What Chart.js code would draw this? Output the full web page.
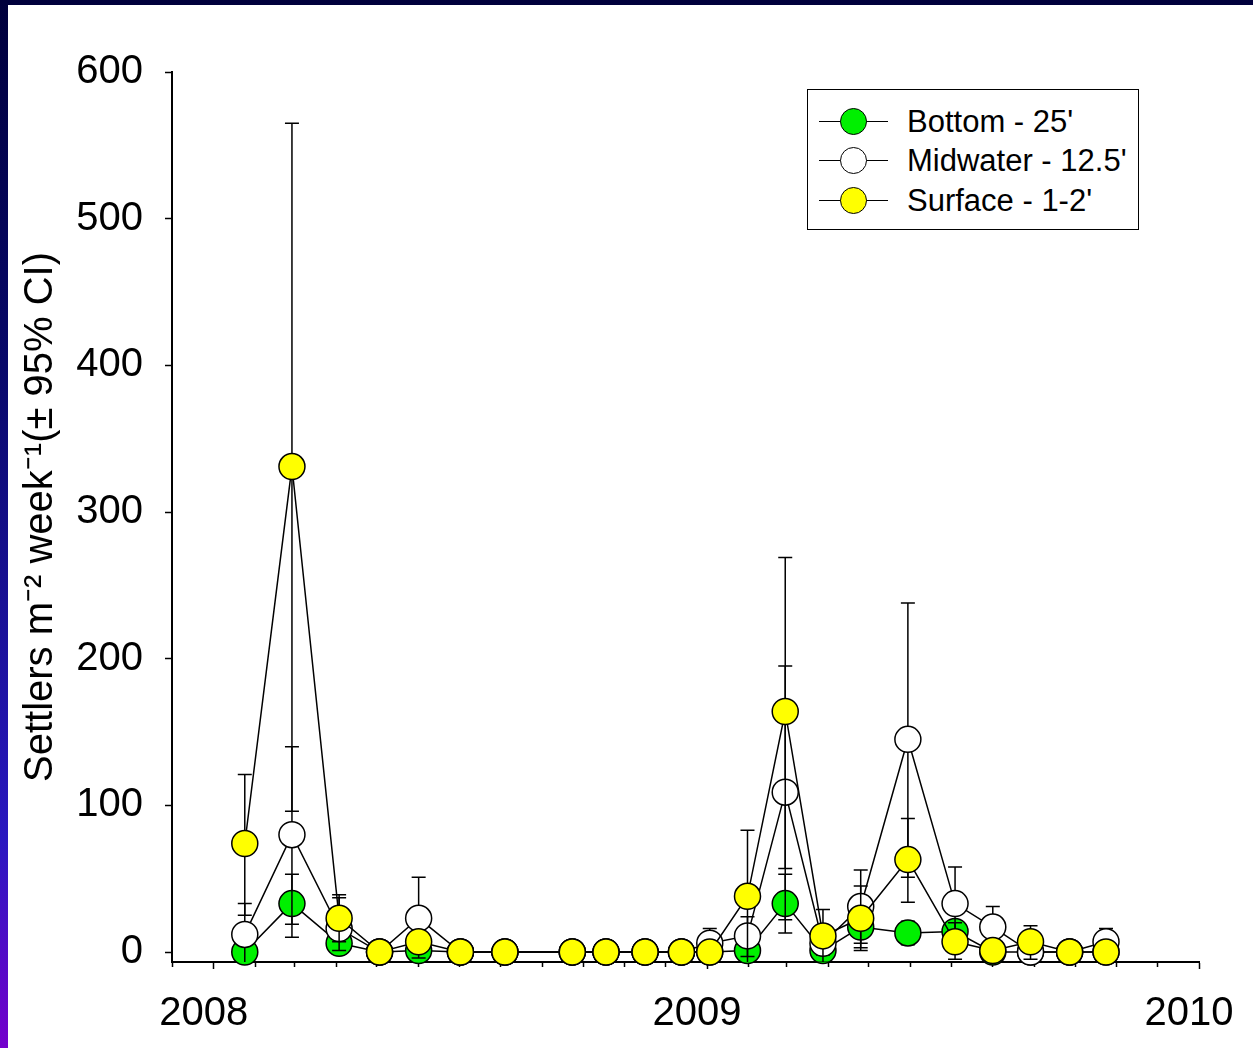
<!DOCTYPE html>
<html><head><meta charset="utf-8">
<script src="https://cdn.jsdelivr.net/npm/chart.js@4.4.1/dist/chart.umd.min.js"></script>
<style>
html,body{margin:0;padding:0;}
body{width:1253px;height:1048px;overflow:hidden;position:relative;
  background:linear-gradient(to bottom,#00003c 0%,#08086a 35%,#2a18c0 80%,#7400cc 100%);}
#wrap{position:absolute;left:8px;top:5px;width:1245px;height:1043px;background:#fff;}
canvas{display:block;}
#legend{position:absolute;left:799px;top:84px;width:332px;height:141px;box-sizing:border-box;
  border:1.5px solid #000;background:#fff;font-family:"Liberation Sans",Arial,sans-serif;}
.row{position:absolute;left:0;width:100%;height:30px;}
.ln{position:absolute;left:11px;width:69px;top:14px;height:0;border-top:1.5px solid #000;}
.dot{position:absolute;left:32px;top:1px;width:27px;height:27px;box-sizing:border-box;border:1.5px solid #000;border-radius:50%;}
.txt{position:absolute;left:99px;top:0;line-height:30px;font-size:31px;color:#000;white-space:nowrap;}
</style></head>
<body>
<div id="wrap"><canvas id="c" width="1245" height="1043"></canvas><div id="legend"></div></div>
<script>
// ---- data ----
const sampleDates = ['2008-01-24','2008-02-28','2008-04-03','2008-05-03','2008-06-01','2008-07-02','2008-08-04',
  '2008-09-23','2008-10-18','2008-11-16','2008-12-13','2009-01-03','2009-01-31','2009-02-28','2009-03-28',
  '2009-04-25','2009-05-30','2009-07-04','2009-08-01','2009-08-29','2009-09-27','2009-10-24'];

const bottomValues = [0, 33, 6, 0, 1, 0, 0, 0, 0, 0, 0, 0, 1, 33, 1, 17, 13, 14, 0, 0, 0, 0];
const bottomLow    = [0, 10, 1, 0, 0, 0, 0, 0, 0, 0, 0, 0, 0, 13, -4, 3, 5, 8, 0, 0, 0, 0];
const bottomHigh   = [0, 53, 11, 0, 2, 0, 0, 0, 0, 0, 0, 0, 2, 53, 6, 31, 21, 21, 0, 0, 0, 0];

const midValues = [12, 80, 16, 0, 23, 0, 0, 0, 0, 0, 0, 6, 11, 109, 6, 31, 145, 33, 17, 0, 0, 7];
const midLow    = [-9, 19, 1, 0, -4, 0, 0, 0, 0, 0, 0, -4, -3, 22, -2, 6, 51, 7, 3, 0, 0, -2];
const midHigh   = [33, 140, 37, 0, 51, 0, 0, 0, 0, 0, 0, 16, 24, 195, 14, 56, 238, 58, 31, 0, 0, 16];

const surfValues = [74, 331, 23, 0, 7, 0, 0, 0, 0, 0, 0, 0, 38, 164, 11, 23, 63, 7, 1, 7, 0, 0];
const surfLow    = [25, 96, 7, 0, 2, 0, 0, 0, 0, 0, 0, 0, -8, 57, -7, 1, 34, -5, 0, -5, 0, 0];
const surfHigh   = [121, 565, 39, 0, 12, 0, 0, 0, 0, 0, 0, 0, 83, 269, 29, 45, 91, 20, 2, 18, 0, 0];

const seriesNames = ["Bottom - 25'", "Midwater - 12.5'", "Surface - 1-2'"];
const seriesColors = ['#00f000', '#ffffff', '#ffff00'];
const yTickValues = [0, 100, 200, 300, 400, 500, 600];
const yearTickLabels = ['2008', '2009', '2010'];
const yAxisTitle = 'Settlers m\u207B\u00B2 week\u207B\u00B9(\u00B1 95% CI)';

// ---- helpers ----
const DAY = 86400000;
const origin = Date.UTC(2008, 0, 1);
const toDay = s => { const [y, m, d] = s.split('-').map(Number); return (Date.UTC(y, m - 1, d) - origin) / DAY; };
const monthTicks = [];
for (let y = 2007, m = 11; ; m++) {
  if (m > 11) { m = 0; y++; }
  monthTicks.push((Date.UTC(y, m, 1) - origin) / DAY);
  if (y === 2010) break;
}
const yearTickValues = yearTickLabels.map(l => (Date.UTC(+l, 0, 1) - origin) / DAY);
const xs = sampleDates.map(toDay);
const pts = vals => vals.map((v, i) => ({x: xs[i], y: v}));
const FONT = '"Liberation Sans", Arial, sans-serif';

const errorBars = {
  id: 'errorBars',
  beforeDatasetDraw(chart, args) {
    const ds = chart.data.datasets[args.index];
    if (!ds.ciLow) return;
    const {ctx, chartArea: a, scales: {y}} = chart;
    ctx.save();
    ctx.beginPath(); ctx.rect(a.left, a.top, a.right - a.left, a.bottom - a.top); ctx.clip();
    ctx.strokeStyle = '#000'; ctx.lineWidth = 1.5;
    args.meta.data.forEach((p, i) => {
      const lo = ds.ciLow[i], hi = ds.ciHigh[i];
      if (lo === hi) return;
      const yl = y.getPixelForValue(lo), yh = y.getPixelForValue(hi), x = p.x;
      ctx.beginPath();
      ctx.moveTo(x, yl); ctx.lineTo(x, yh);
      ctx.moveTo(x - 7, yh); ctx.lineTo(x + 7, yh);
      ctx.moveTo(x - 7, yl); ctx.lineTo(x + 7, yl);
      ctx.stroke();
    });
    ctx.restore();
  }
};

const mk = (i, vals, lo, hi, order) => ({
  label: seriesNames[i], data: pts(vals), ciLow: lo, ciHigh: hi, order,
  borderColor: '#000', borderWidth: 1.5, tension: 0, clip: false,
  pointRadius: 13, pointHoverRadius: 13, pointBackgroundColor: seriesColors[i],
  pointBorderColor: '#000', pointBorderWidth: 1.5
});

new Chart(document.getElementById('c'), {
  type: 'line',
  data: { datasets: [
    mk(0, bottomValues, bottomLow, bottomHigh, 3),
    mk(1, midValues, midLow, midHigh, 2),
    mk(2, surfValues, surfLow, surfHigh, 1)
  ]},
  plugins: [errorBars],
  options: {
    responsive: false, animation: false, devicePixelRatio: 1,
    layout: { padding: { top: 67, right: 54, left: 0, bottom: 0 } },
    plugins: { legend: { display: false }, tooltip: { enabled: false } },
    events: [],
    scales: {
      x: {
        type: 'linear', min: monthTicks[0], max: monthTicks[monthTicks.length - 1],
        afterBuildTicks: s => { s.ticks = monthTicks.map(v => ({value: v})); },
        afterFit: s => { s.height = 86; s.paddingLeft = 0; s.paddingRight = 0; },
        grid: { drawOnChartArea: false, drawTicks: true, tickLength: 7, tickWidth: 1.5, tickColor: '#000',
          tickBorderDash: c => (c.tick && yearTickValues.includes(c.tick.value)) ? [] : [4, 40] },
        border: { color: '#000', width: 2 },
        ticks: { autoSkip: false, maxRotation: 0, minRotation: 0, padding: 21, labelOffset: -10, color: '#000',
          font: { family: FONT, size: 40 },
          callback: v => { const k = yearTickValues.indexOf(v); return k >= 0 ? yearTickLabels[k] : ''; } }
      },
      y: {
        min: -6.8, max: 600,
        afterBuildTicks: s => { s.ticks = yTickValues.map(v => ({value: v})); },
        afterFit: s => { s.width = 164; s.paddingTop = 0; s.paddingBottom = 0; },
        grid: { drawOnChartArea: false, drawTicks: true, tickLength: 7, tickWidth: 1.5, tickColor: '#000' },
        border: { color: '#000', width: 2 },
        ticks: { padding: 22, color: '#000', font: { family: FONT, size: 40 } },
        title: { display: true, text: yAxisTitle, color: '#000', padding: { top: 9, bottom: 0 },
          font: { family: FONT, size: 40, weight: 'normal' } }
      }
    }
  }
});

// HTML legend built from the series
const leg = document.getElementById('legend');
const rowTops = [17, 56, 96];
seriesNames.forEach((n, i) => {
  const r = document.createElement('div'); r.className = 'row'; r.style.top = rowTops[i] + 'px';
  r.innerHTML = '<div class="ln"></div><div class="dot" style="background:' + seriesColors[i] + '"></div><div class="txt"></div>';
  r.querySelector('.txt').textContent = n;
  leg.appendChild(r);
});
</script>
</body></html>
